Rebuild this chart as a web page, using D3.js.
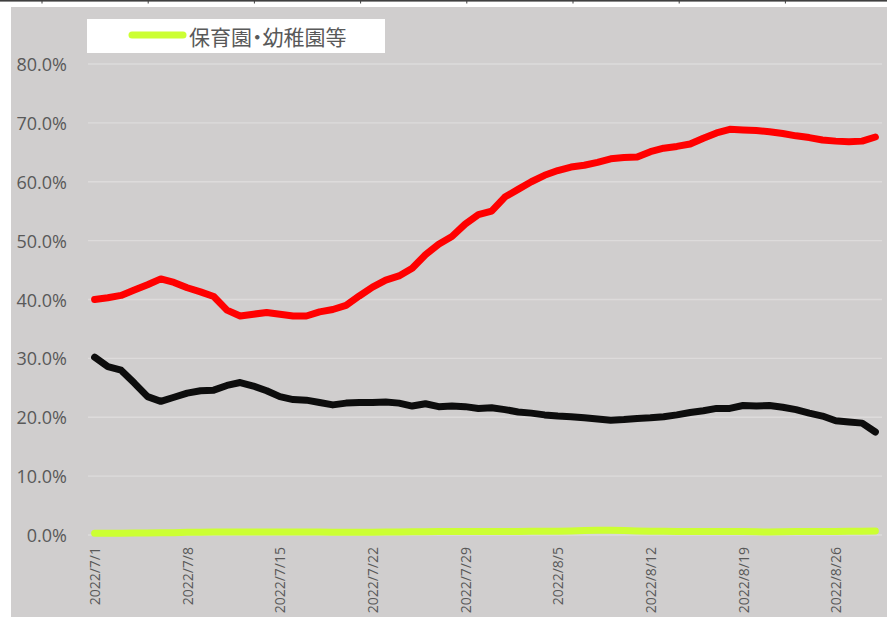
<!DOCTYPE html>
<html>
<head>
<meta charset="utf-8">
<script src="https://cdn.jsdelivr.net/npm/d3@7"></script>
<style>
  html, body { margin: 0; padding: 0; background: #ffffff; }
  svg { display: block; }
  .legend-text { font-feature-settings: "palt"; }
</style>
</head>
<body>
<svg id="chart" width="887" height="617"></svg>
<script>
// ---------- DATA ----------
const categories = [
  "2022/7/1","2022/7/2","2022/7/3","2022/7/4","2022/7/5","2022/7/6","2022/7/7","2022/7/8","2022/7/9","2022/7/10",
  "2022/7/11","2022/7/12","2022/7/13","2022/7/14","2022/7/15","2022/7/16","2022/7/17","2022/7/18","2022/7/19","2022/7/20",
  "2022/7/21","2022/7/22","2022/7/23","2022/7/24","2022/7/25","2022/7/26","2022/7/27","2022/7/28","2022/7/29","2022/7/30",
  "2022/7/31","2022/8/1","2022/8/2","2022/8/3","2022/8/4","2022/8/5","2022/8/6","2022/8/7","2022/8/8","2022/8/9",
  "2022/8/10","2022/8/11","2022/8/12","2022/8/13","2022/8/14","2022/8/15","2022/8/16","2022/8/17","2022/8/18","2022/8/19",
  "2022/8/20","2022/8/21","2022/8/22","2022/8/23","2022/8/24","2022/8/25","2022/8/26","2022/8/27","2022/8/28","2022/8/29"
];

const xTickLabels = ["2022/7/1","2022/7/8","2022/7/15","2022/7/22","2022/7/29","2022/8/5","2022/8/12","2022/8/19","2022/8/26"];
const yTicks = [0, 10, 20, 30, 40, 50, 60, 70, 80];

// red series (%)
const seriesRed = [
  40.0,40.3,40.7,41.6,42.5,43.5,42.9,42.0,41.3,40.5,
  38.2,37.2,37.5,37.8,37.5,37.2,37.2,37.9,38.3,39.0,
  40.6,42.1,43.3,44.0,45.3,47.6,49.4,50.7,52.8,54.4,
  55.0,57.4,58.7,60.0,61.1,61.9,62.5,62.8,63.3,63.9,
  64.1,64.2,65.1,65.7,66.0,66.4,67.4,68.3,68.9,68.8,
  68.7,68.5,68.2,67.8,67.5,67.1,66.9,66.8,66.9,67.6
];

// black series (%)
const seriesBlack = [
  30.2,28.6,28.0,25.8,23.5,22.7,23.4,24.1,24.5,24.6,
  25.4,25.9,25.3,24.5,23.5,23.0,22.9,22.5,22.1,22.4,
  22.5,22.5,22.6,22.4,21.9,22.3,21.8,21.9,21.8,21.5,
  21.6,21.3,20.9,20.7,20.4,20.2,20.1,19.9,19.7,19.5,
  19.6,19.8,19.9,20.1,20.4,20.8,21.1,21.5,21.5,22.0,
  21.9,22.0,21.7,21.3,20.7,20.2,19.4,19.2,19.0,17.5
];

// green series: 保育園・幼稚園等 (%)
const seriesGreen = [
  0.30,0.30,0.30,0.35,0.35,0.40,0.40,0.45,0.45,0.50,
  0.50,0.50,0.50,0.50,0.50,0.50,0.50,0.50,0.45,0.45,
  0.45,0.45,0.50,0.50,0.55,0.55,0.60,0.60,0.60,0.60,
  0.60,0.60,0.60,0.65,0.65,0.65,0.70,0.75,0.80,0.80,
  0.75,0.70,0.65,0.65,0.60,0.60,0.60,0.60,0.60,0.60,
  0.55,0.50,0.55,0.60,0.60,0.60,0.60,0.65,0.65,0.70
];

const legendLabel = "保育園・幼稚園等";

// ---------- DRAW ----------
const svg = d3.select("#chart");
const W = 887, H = 617;

// top border line from neighbouring frame
svg.append("rect").attr("x", 0).attr("y", 0).attr("width", W).attr("height", 1.6).attr("fill", "#3f3f3f");
svg.selectAll("line.topTick").data(d3.range(8)).enter().append("line")
  .attr("x1", d => 42 + d * 106.2).attr("x2", d => 42 + d * 106.2)
  .attr("y1", 0).attr("y2", 3.5).attr("stroke", "#3f3f3f").attr("stroke-width", 1);

// chart background
svg.append("rect").attr("x", 11).attr("y", 7).attr("width", W - 11).attr("height", H - 7).attr("fill", "#d0cece");

const plot = { left: 88, right: 882, top: 64, bottom: 535 };

const x = d3.scalePoint().domain(categories).range([plot.left, plot.right]).padding(0.5);
const y = d3.scaleLinear().domain([0, 80]).range([plot.bottom, plot.top]);

// gridlines
svg.append("g").selectAll("line").data(yTicks).enter().append("line")
  .attr("x1", plot.left).attr("x2", plot.right)
  .attr("y1", d => y(d)).attr("y2", d => y(d))
  .attr("stroke", "#dddbdb").attr("stroke-width", 1.4);

// y axis labels
const fmt = d => d3.format(".1f")(d) + "%";
svg.append("g").selectAll("text").data(yTicks).enter().append("text")
  .attr("x", 67).attr("y", d => y(d))
  .attr("text-anchor", "end").attr("dominant-baseline", "central")
  .attr("font-family", "'Open Sans', 'Noto Sans', sans-serif").attr("font-size", 18)
  .attr("fill", "#595959")
  .text(fmt);

// x axis labels (rotated)
svg.append("g").selectAll("text").data(xTickLabels).enter().append("text")
  .attr("transform", d => `translate(${x(d)},547) rotate(-90)`)
  .attr("text-anchor", "end").attr("dominant-baseline", "central")
  .attr("font-family", "'Open Sans', 'Noto Sans', sans-serif").attr("font-size", 14)
  .attr("fill", "#595959")
  .text(d => d);

// lines
const lineGen = vals => d3.line()
  .x((d, i) => x(categories[i]))
  .y(d => y(d))(vals);

const series = [
  { values: seriesRed, color: "#ff0000" },
  { values: seriesBlack, color: "#0d0d0d" },
  { values: seriesGreen, color: "#ccff33" }
];
svg.append("g").selectAll("path").data(series).enter().append("path")
  .attr("d", s => lineGen(s.values))
  .attr("fill", "none")
  .attr("stroke", s => s.color)
  .attr("stroke-width", 7)
  .attr("stroke-linejoin", "round")
  .attr("stroke-linecap", "round");

// legend
const lg = svg.append("g");
lg.append("rect").attr("x", 87).attr("y", 19).attr("width", 298).attr("height", 34).attr("fill", "#ffffff");
lg.append("line").attr("x1", 132).attr("x2", 183).attr("y1", 35).attr("y2", 35)
  .attr("stroke", "#ccff33").attr("stroke-width", 7).attr("stroke-linecap", "round");
lg.append("text").attr("class", "legend-text").attr("x", 189).attr("y", 36)
  .attr("dominant-baseline", "central")
  .attr("font-family", "'Noto Sans CJK JP', sans-serif").attr("font-size", 21)
  .attr("fill", "#595959")
  .text(legendLabel);
</script>
</body>
</html>
